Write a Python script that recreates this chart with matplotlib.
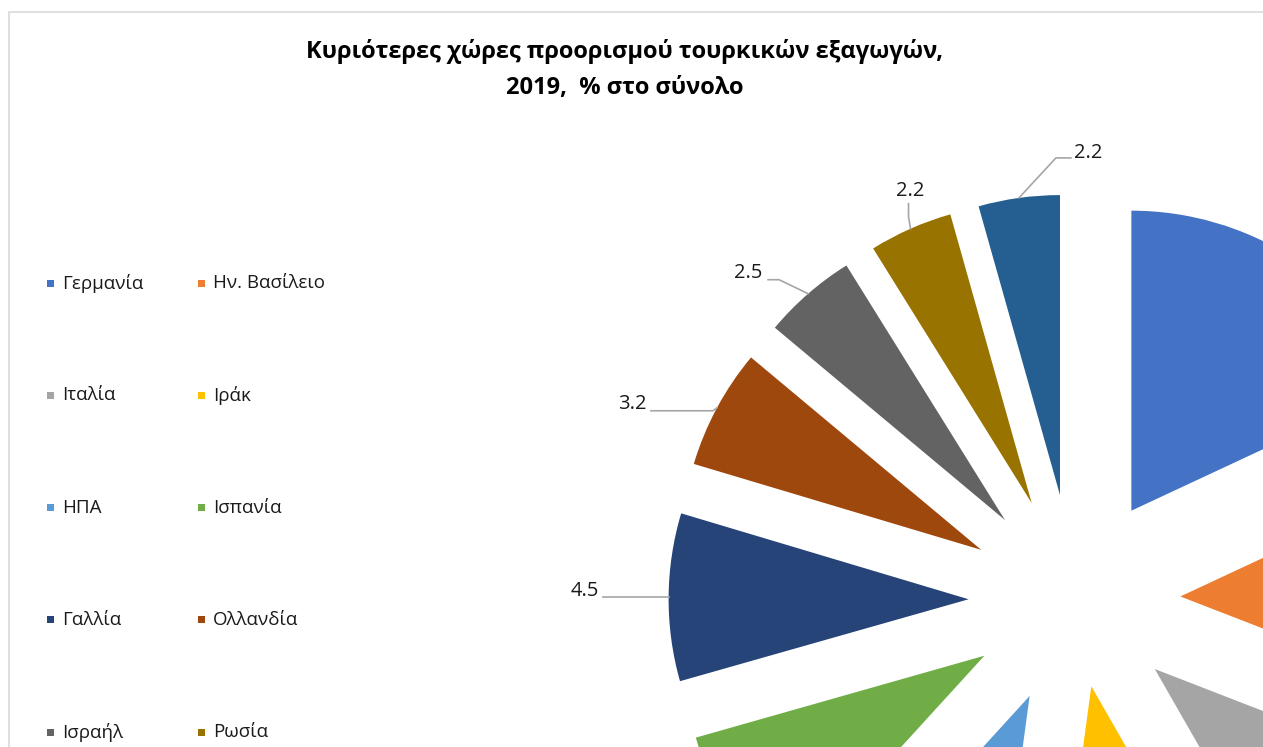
import numpy as np
import matplotlib
matplotlib.use('Agg')
import matplotlib.pyplot as plt
from matplotlib.patches import Rectangle

plt.rcParams['font.family'] = ['Open Sans', 'DejaVu Sans']

# data
countries = ['Γερμανία', 'Ην. Βασίλειο', 'Ιταλία', 'Ιράκ', 'ΗΠΑ', 'Ισπανία',
             'Γαλλία', 'Ολλανδία', 'Ισραήλ', 'Ρωσία', 'Ρουμανία']
shares = [9.0, 6.4, 5.4, 5.2, 4.8, 4.4, 4.5, 3.22, 2.52, 2.24, 2.18]
colors = ['#4472C4', '#ED7D31', '#A5A5A5', '#FFC000', '#5B9BD5', '#70AD47',
          '#264478', '#9E480E', '#636363', '#997300', '#255E91']
explode = [0.353, 0.353, 0.353, 0.293, 0.353, 0.353,
           0.353, 0.353, 0.353, 0.353, 0.353]
title1 = 'Κυριότερες χώρες προορισμού τουρκικών εξαγωγών,'
title2 = '2019,  % στο σύνολο'

W, H = 1263, 747
fig = plt.figure(figsize=(W / 100, H / 100), dpi=100)

# pie geometry in pixels (centre, radius); a large part lies outside the canvas
cx, cy, rpx = 1074.5, 600, 300
ax = fig.add_axes([0, 0, 1, 1])
wedges, _ = ax.pie(shares, colors=colors, startangle=90, counterclock=False,
                   explode=explode, radius=1, wedgeprops=dict(linewidth=0))
ax.set_xlim(-cx / rpx, (W - cx) / rpx)
ax.set_ylim(-(H - cy) / rpx, cy / rpx)
ax.set_aspect('auto')
ax.axis('off')

# leader lines: elbow, end, text position as pixel offsets from the arc midpoint
leaders = {
    6: [(-4, 0), (-66, 0), (-70, -6.5), 'right'],
    7: [(-4, 3), (-66, 3), (-70, -4), 'right'],
    8: [(-29, -14), (-40, -14), (-46, -20.5), 'right'],
    9: [(-2, -12), (-2, -25), (0, -38), 'center'],
    10: [(37, -40), (52, -40), (55, -45), 'left'],
}
px = 1 / rpx
for i, w in enumerate(wedges):
    mid = np.deg2rad((w.theta1 + w.theta2) / 2)
    x0 = w.center[0] + np.cos(mid)
    y0 = w.center[1] + np.sin(mid)
    if i not in leaders:
        continue  # these labels fall outside the visible canvas
    e, f, t, ha = leaders[i]
    ax.plot([x0, x0 + e[0] * px, x0 + f[0] * px],
            [y0, y0 - e[1] * px, y0 - f[1] * px],
            color='#A6A6A6', lw=1.2, clip_on=False)
    ax.text(x0 + t[0] * px, y0 - t[1] * px, f'{shares[i]:.1f}', ha=ha,
            va='center', fontsize=14.5, color='#1a1a1a')

# chart border
fig.add_artist(Rectangle((9 / W, -0.1), 1.2, 1 - 12 / H + 0.1,
                         transform=fig.transFigure, fill=False,
                         edgecolor='#D9D9D9', lw=1.2))

# title
fig.text(625 / W, 1 - 52 / H, title1, ha='center', va='center',
         fontsize=17, fontweight='bold', color='#000000')
fig.text(625 / W, 1 - 88 / H, title2, ha='center', va='center',
         fontsize=17, fontweight='bold', color='#000000')

# legend, two columns, filled row by row
col_x = [50, 201]
row_y0, row_gap = 283, 112.3
for i, (name, c) in enumerate(zip(countries, colors)):
    x = col_x[i % 2]
    y = row_y0 + (i // 2) * row_gap
    if y > H:
        continue
    fig.add_artist(Rectangle(((x - 3.5) / W, 1 - (y + 3.5) / H), 7 / W, 7 / H,
                             transform=fig.transFigure, color=c, lw=0))
    fig.text((x + 12) / W, 1 - y / H, name, ha='left', va='center',
             fontsize=13.5, color='#1a1a1a')

fig.savefig('out.png', dpi=100)
